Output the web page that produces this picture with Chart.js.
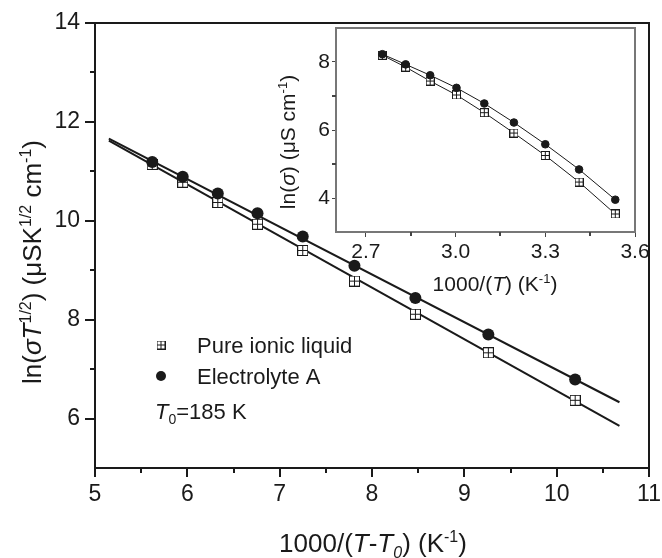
<!DOCTYPE html>
<html>
<head>
<meta charset="utf-8">
<script src="https://cdn.jsdelivr.net/npm/chart.js@4.4.0/dist/chart.umd.min.js"></script>
<style>
  body { margin: 0; background: #fff; }
  #wrap { position: relative; width: 662px; height: 558px; }
  #main { position: absolute; left: 0; top: 0; }
  #inset { position: absolute; left: 250px; top: 10px; }
</style>
</head>
<body>
<div id="wrap">
  <canvas id="main" width="662" height="558"></canvas>
  <canvas id="inset" width="410" height="290"></canvas>
</div>
<script>
// main plot: ln(sigma T^1/2) vs 1000/(T-T0)
const xMain = [5.62, 5.95, 6.33, 6.76, 7.25, 7.81, 8.47, 9.26, 10.20];
const pureMain = [11.14, 10.78, 10.37, 9.93, 9.40, 8.78, 8.11, 7.33, 6.37];
const elecMain = [11.19, 10.89, 10.55, 10.15, 9.68, 9.09, 8.44, 7.70, 6.79];

// VTF fit lines (end points)
const fitX = [5.15, 10.68];
const fitPure = [11.62, 5.85];
const fitElec = [11.66, 6.33];

// inset: ln(sigma) vs 1000/T
const xInset = [2.755, 2.833, 2.915, 3.003, 3.096, 3.195, 3.300, 3.413, 3.534];
const pureInset = [8.20, 7.85, 7.44, 7.03, 6.51, 5.91, 5.25, 4.47, 3.53];
const elecInset = [8.23, 7.93, 7.61, 7.24, 6.78, 6.22, 5.58, 4.84, 3.95];

const mainXTicks = [5, 6, 7, 8, 9, 10, 11];
const mainXMinor = [5.5, 6.5, 7.5, 8.5, 9.5, 10.5];
const mainYTicks = [6, 8, 10, 12, 14];
const mainYMinor = [7, 9, 11, 13];
const insetXTicks = [2.7, 3.0, 3.3, 3.6];
const insetXMinor = [2.85, 3.15, 3.45];
const insetYTicks = [4, 6, 8];
const insetYMinor = [5, 7];

const FONT = '"Liberation Sans", Arial, Helvetica, sans-serif';
const INK = '#1a1a1a';

function squarePlus(size) {
  const c = document.createElement('canvas');
  c.width = c.height = size;
  const g = c.getContext('2d');
  g.fillStyle = '#fff';
  g.fillRect(0.5, 0.5, size - 1, size - 1);
  g.strokeStyle = INK;
  g.lineWidth = 1;
  g.strokeRect(0.5, 0.5, size - 1, size - 1);
  g.beginPath();
  g.moveTo(size / 2, 0.5); g.lineTo(size / 2, size - 0.5);
  g.moveTo(0.5, size / 2); g.lineTo(size - 0.5, size / 2);
  g.stroke();
  return c;
}
const sqMain = squarePlus(11);
const sqInset = squarePlus(9);
const sqLegend = squarePlus(9);

function pts(xs, ys) { return xs.map((x, i) => ({ x: x, y: ys[i] })); }

// text with italics / superscripts / subscripts
function partFont(style, size) {
  const small = style.includes('sup') || style.includes('sub');
  const it = style.includes('i') && style !== 'sup' && style !== 'sub';
  return (it ? 'italic ' : '') + (small ? Math.round(size * 0.62) : size) + 'px ' + FONT;
}
function drawRich(ctx, parts, x, y, size, align) {
  let w = 0;
  parts.forEach(p => { ctx.font = partFont(p[1], size); w += ctx.measureText(p[0]).width; });
  let cx = align === 'center' ? x - w / 2 : x;
  ctx.textAlign = 'left';
  ctx.textBaseline = 'alphabetic';
  parts.forEach(p => {
    ctx.font = partFont(p[1], size);
    let dy = 0;
    if (p[1].includes('sup')) dy = -size * 0.4;
    if (p[1].includes('sub')) dy = size * 0.22;
    ctx.fillText(p[0], cx, y + dy);
    cx += ctx.measureText(p[0]).width;
  });
}

function frameAndMinor(chart, xMinor, yMinor, len, color, width, tickColor) {
  const ctx = chart.ctx, a = chart.chartArea;
  const xs = chart.scales.x, ys = chart.scales.y;
  ctx.save();
  ctx.strokeStyle = color;
  ctx.lineWidth = width;
  ctx.beginPath();
  ctx.moveTo(a.left, a.top); ctx.lineTo(a.right, a.top); ctx.lineTo(a.right, a.bottom);
  ctx.stroke();
  ctx.strokeStyle = tickColor;
  ctx.beginPath();
  xMinor.forEach(v => {
    const p = Math.round(xs.getPixelForValue(v));
    ctx.moveTo(p, a.bottom); ctx.lineTo(p, a.bottom + len);
  });
  yMinor.forEach(v => {
    const p = Math.round(ys.getPixelForValue(v));
    ctx.moveTo(a.left, p); ctx.lineTo(a.left - len, p);
  });
  ctx.stroke();
  ctx.restore();
}

const mainDecor = {
  id: 'mainDecor',
  afterDraw(chart) {
    const ctx = chart.ctx;
    frameAndMinor(chart, mainXMinor, mainYMinor, 5, INK, 2, INK);
    ctx.save();
    ctx.fillStyle = INK;
    // legend
    ctx.drawImage(sqLegend, 161 - 4.5, 345 - 4.5);
    ctx.beginPath(); ctx.arc(161, 376, 5, 0, Math.PI * 2); ctx.fill();
    ctx.font = '22px ' + FONT;
    ctx.textAlign = 'left'; ctx.textBaseline = 'alphabetic';
    ctx.fillText('Pure ionic liquid', 197, 353);
    ctx.fillText('Electrolyte A', 197, 384);
    drawRich(ctx, [['T', 'i'], ['0', 'sub'], ['=185 K', 'n']], 155, 419, 22, 'left');
    // axis titles
    drawRich(ctx, [['1000/(', 'n'], ['T', 'i'], ['-', 'n'], ['T', 'i'], ['0', 'isub'],
      [') (K', 'n'], ['-1', 'sup'], [')', 'n']], 373, 552, 26, 'center');
    ctx.translate(41, 262);
    ctx.rotate(-Math.PI / 2);
    drawRich(ctx, [['ln(', 'n'], ['σ', 'i'], ['T', 'i'], ['1/2', 'sup'], [') (μSK', 'n'],
      ['1/2', 'sup'], [' cm', 'n'], ['-1', 'sup'], [')', 'n']], 0, 0, 26, 'center');
    ctx.restore();
  }
};

const OX = 250, OY = 10;
const insetDecor = {
  id: 'insetDecor',
  afterDraw(chart) {
    const ctx = chart.ctx;
    frameAndMinor(chart, insetXMinor, insetYMinor, 4, '#777', 2, '#444');
    ctx.save();
    ctx.fillStyle = INK;
    drawRich(ctx, [['1000/(', 'n'], ['T', 'i'], [') (K', 'n'], ['-1', 'sup'], [')', 'n']],
      495 - OX, 291 - OY, 21, 'center');
    ctx.translate(295 - OX, 142 - OY);
    ctx.rotate(-Math.PI / 2);
    drawRich(ctx, [['ln(', 'n'], ['σ', 'i'], [') (μS cm', 'n'], ['-1', 'sup'], [')', 'n']],
      0, 0, 21, 'center');
    ctx.restore();
  }
};

function fixedTicks(list) {
  return s => { s.ticks = list.map(v => ({ value: v })); };
}

new Chart(document.getElementById('main'), {
  type: 'scatter',
  data: {
    datasets: [
      { label: 'Electrolyte A', data: pts(xMain, elecMain), pointStyle: 'circle', pointRadius: 6,
        backgroundColor: INK, borderColor: INK, borderWidth: 0, order: 1 },
      { label: 'Pure ionic liquid', data: pts(xMain, pureMain), pointStyle: sqMain, order: 2 },
      { label: 'fit A', data: pts(fitX, fitElec), showLine: true, pointRadius: 0,
        borderColor: INK, borderWidth: 2, order: 3 },
      { label: 'fit pure', data: pts(fitX, fitPure), showLine: true, pointRadius: 0,
        borderColor: INK, borderWidth: 2, order: 3 }
    ]
  },
  options: {
    responsive: false,
    animation: false,
    events: [],
    layout: { padding: { left: 0, top: 23, right: 13, bottom: 0 } },
    plugins: { legend: { display: false }, tooltip: { enabled: false } },
    scales: {
      x: {
        type: 'linear', min: 5, max: 11,
        afterBuildTicks: fixedTicks(mainXTicks),
        afterFit: s => { s.height = 90; s.paddingLeft = 0; s.paddingRight = 0; },
        grid: { drawOnChartArea: false, tickLength: 9, color: INK, lineWidth: 2 },
        border: { color: INK, width: 2 },
        ticks: { color: INK, font: { family: FONT, size: 23 }, padding: 4, maxRotation: 0,
          autoSkip: false, callback: v => String(v) }
      },
      y: {
        type: 'linear', min: 5, max: 14,
        afterBuildTicks: fixedTicks(mainYTicks),
        afterFit: s => { s.width = 95; s.paddingTop = 0; s.paddingBottom = 0; },
        grid: { drawOnChartArea: false, tickLength: 10, color: INK, lineWidth: 2 },
        border: { color: INK, width: 2 },
        ticks: { color: INK, font: { family: FONT, size: 23 }, padding: 5,
          autoSkip: false, callback: v => String(v) }
      }
    }
  },
  plugins: [mainDecor]
});

new Chart(document.getElementById('inset'), {
  type: 'scatter',
  data: {
    datasets: [
      { label: 'Electrolyte A', data: pts(xInset, elecInset), showLine: true, pointStyle: 'circle',
        pointRadius: 3.8, backgroundColor: INK, borderColor: INK, borderWidth: 1, order: 1 },
      { label: 'Pure ionic liquid', data: pts(xInset, pureInset), showLine: true, pointStyle: sqInset,
        borderColor: INK, borderWidth: 1, order: 2 }
    ]
  },
  options: {
    responsive: false,
    animation: false,
    events: [],
    layout: { padding: { left: 0, top: 18, right: 25, bottom: 0 } },
    plugins: { legend: { display: false }, tooltip: { enabled: false } },
    scales: {
      x: {
        type: 'linear', min: 2.6, max: 3.6,
        afterBuildTicks: fixedTicks(insetXTicks),
        afterFit: s => { s.height = 68; s.paddingLeft = 0; s.paddingRight = 0; },
        grid: { drawOnChartArea: false, tickLength: 5, color: '#444', lineWidth: 1 },
        border: { color: '#777', width: 2 },
        ticks: { color: INK, font: { family: FONT, size: 21 }, padding: 3, maxRotation: 0,
          autoSkip: false, callback: v => v.toFixed(1) }
      },
      y: {
        type: 'linear', min: 3, max: 9,
        afterBuildTicks: fixedTicks(insetYTicks),
        afterFit: s => { s.width = 86; s.paddingTop = 0; s.paddingBottom = 0; },
        grid: { drawOnChartArea: false, tickLength: 4, color: '#444', lineWidth: 1 },
        border: { color: '#777', width: 2 },
        ticks: { color: INK, font: { family: FONT, size: 21 }, padding: 2,
          autoSkip: false, callback: v => String(v) }
      }
    }
  },
  plugins: [insetDecor]
});
</script>
</body>
</html>
